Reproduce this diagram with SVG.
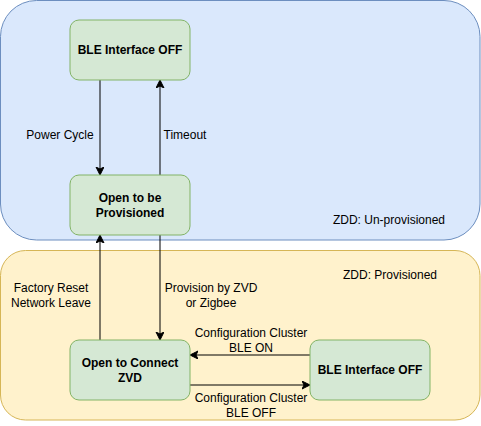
<svg xmlns="http://www.w3.org/2000/svg" width="481" height="426" viewBox="0 0 481 426">
<defs>
<style>
.cont-blue{fill:#dae8fc;stroke:#6c8ebf;stroke-width:1}
.cont-yellow{fill:#fff2cc;stroke:#d6b656;stroke-width:1}
.node{fill:#d5e8d4;stroke:#82b366;stroke-width:1}
.nt{font-family:"Liberation Sans",Arial,sans-serif;font-size:12px;font-weight:bold;fill:#000;text-anchor:middle}
.lt{font-family:"Liberation Sans",Arial,sans-serif;font-size:12px;fill:#000;text-anchor:middle}
.ct{font-family:"Liberation Sans",Arial,sans-serif;font-size:12px;fill:#000}
.edge{fill:none;stroke:#000;stroke-width:1}
</style>
<marker id="arr" markerWidth="10" markerHeight="10" refX="7" refY="4" orient="auto" markerUnits="userSpaceOnUse">
<path d="M0,0 L8,4 L0,8 L2,4 Z" fill="#000" stroke="#000" stroke-width="1"/>
</marker>
</defs>
<g id="containers">
<g id="unprovisioned">
<rect class="cont-blue" x="0.5" y="0.5" width="479.5" height="239.5" rx="36" ry="36"/>
<text class="ct" x="445" y="224" text-anchor="end">ZDD: Un-provisioned</text>
</g>
<g id="provisioned">
<rect class="cont-yellow" x="0.5" y="250.5" width="479.5" height="169.5" rx="25" ry="25"/>
<text class="ct" x="437" y="279" text-anchor="end">ZDD: Provisioned</text>
</g>
</g>
<g id="connectors">
<path class="edge" d="M100,80 L100,174" marker-end="url(#arr)"/>
<text class="lt" x="60" y="139">Power Cycle</text>
<path class="edge" d="M160,175 L160,81" marker-end="url(#arr)"/>
<text class="lt" x="185" y="139">Timeout</text>
<path class="edge" d="M100,340 L100,236" marker-end="url(#arr)"/>
<text class="lt" x="51" y="292">Factory Reset</text>
<text class="lt" x="51" y="307">Network Leave</text>
<path class="edge" d="M160,235 L160,339" marker-end="url(#arr)"/>
<text class="lt" x="211" y="292">Provision by ZVD</text>
<text class="lt" x="211" y="307">or Zigbee</text>
<path class="edge" d="M310,355 L191,355" marker-end="url(#arr)"/>
<text class="lt" x="251" y="337">Configuration Cluster</text>
<text class="lt" x="251" y="352">BLE ON</text>
<path class="edge" d="M190,385 L309,385" marker-end="url(#arr)"/>
<text class="lt" x="251" y="402">Configuration Cluster</text>
<text class="lt" x="251" y="417">BLE OFF</text>
</g>
<g id="node-ble-off-top">
<rect class="node" x="70" y="20" width="120" height="60" rx="9" ry="9"/>
<text class="nt" x="130" y="54">BLE Interface OFF</text>
</g>
<g id="node-open-provisioned">
<rect class="node" x="70" y="175" width="120" height="60" rx="9" ry="9"/>
<text class="nt" x="130" y="202">Open to be</text>
<text class="nt" x="130" y="217">Provisioned</text>
</g>
<g id="node-open-connect">
<rect class="node" x="70" y="340" width="120" height="60" rx="9" ry="9"/>
<text class="nt" x="130" y="367">Open to Connect</text>
<text class="nt" x="130" y="382">ZVD</text>
</g>
<g id="node-ble-off-bottom">
<rect class="node" x="310" y="340" width="120" height="60" rx="9" ry="9"/>
<text class="nt" x="370" y="374">BLE Interface OFF</text>
</g>
</svg>
